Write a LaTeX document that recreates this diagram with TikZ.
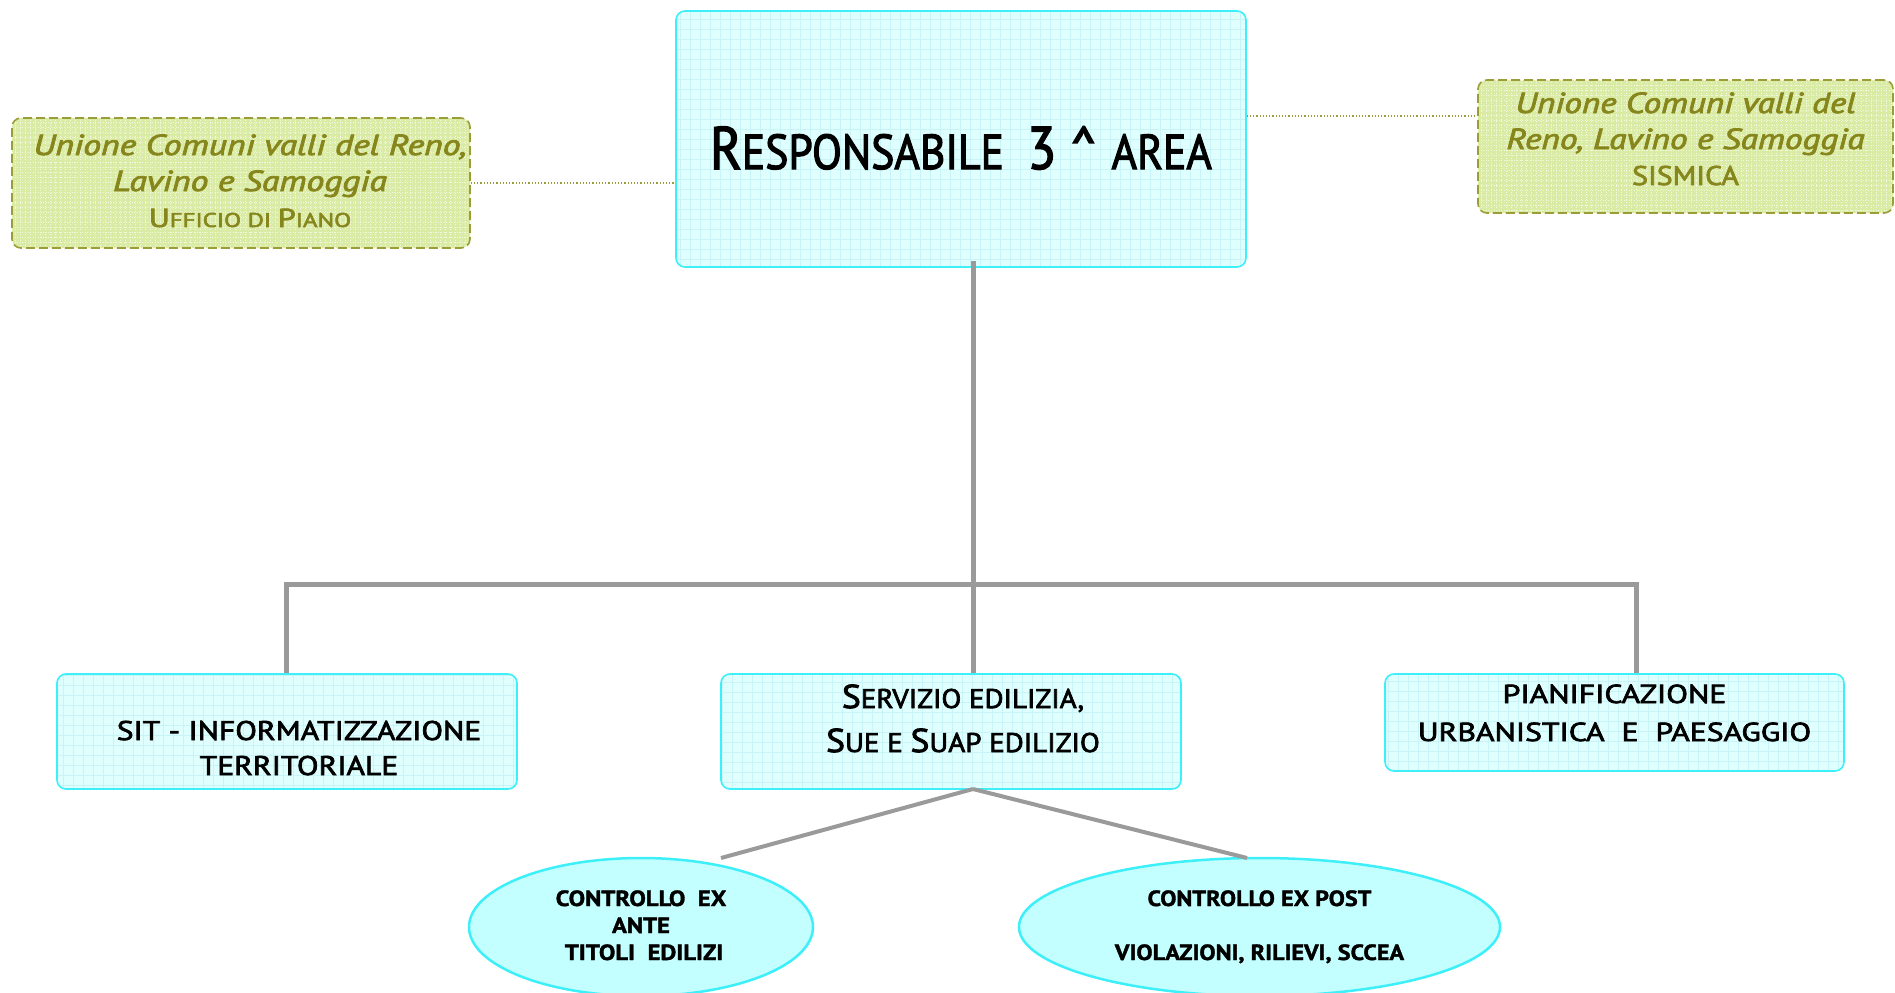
\documentclass[tikz,border=0pt]{standalone}
\usepackage{graphicx}
\usepackage{fontspec}
\setmainfont{PT Sans}[UprightFeatures={FakeBold=2.5}, ItalicFeatures={FakeBold=2.5},
  BoldFeatures={FakeBold=1.5}]
\usetikzlibrary{shapes.geometric}

\definecolor{boxfill}{HTML}{DFFFFF}
\definecolor{boxgrid}{HTML}{C8F4F7}
\definecolor{boxline}{HTML}{3CEFF8}
\definecolor{ovalfill}{HTML}{C4FFFF}
\definecolor{notefill}{HTML}{D9EBA4}
\definecolor{notegrid}{HTML}{F2F8DC}
\definecolor{noteline}{HTML}{9C9C38}
\definecolor{notetext}{HTML}{86861C}
\definecolor{linkgrey}{HTML}{9A9A9A}

\newcommand{\fs}[2]{\fontsize{#1}{#2}\selectfont}
\newcommand{\wide}[2]{\scalebox{#1}[1]{#2}}

\tikzset{
  unitbox/.style={draw=boxline, line width=1.6pt, fill=boxfill, rounded corners=9pt,
    align=center, inner sep=0pt, text=black, text depth=0pt,
    path picture={\draw[boxgrid, line width=0.5pt]
      (path picture bounding box.south west) grid[step=10pt]
      (path picture bounding box.north east);}},
  notebox/.style={draw=noteline, dash pattern=on 9pt off 4pt, line width=1.6pt,
    fill=notefill, rounded corners=9pt, align=center, inner sep=0pt, text=notetext,
    text depth=0pt,
    path picture={\draw[notegrid, line width=0.6pt, dotted]
      (path picture bounding box.south west) grid[step=5pt]
      (path picture bounding box.north east);}},
  oval/.style={ellipse, draw=boxline, line width=2.5pt, fill=ovalfill,
    align=center, inner sep=0pt, text=black, text depth=0pt},
  trunk/.style={draw=linkgrey, line width=5pt},
  branch/.style={draw=linkgrey, line width=4pt},
  liaison/.style={draw=noteline, dotted, line width=1.2pt}
}

\begin{document}
\begin{tikzpicture}[x=1pt, y=-1pt]
  \useasboundingbox (0,0) rectangle (1895,993);
  \clip (0,0) rectangle (1895,993);

  % head of the area
  \node[unitbox, minimum width=570pt, minimum height=256pt, text height=60pt,
        font=\fs{60}{70}] (head) at (961,139)
    {\wide{0.89}{R\fs{49}{70}ESPONSABILE\ \ \fs{60}{70}3 \^{} \fs{49}{70}AREA}};

  % external offices of the Unione
  \node[notebox, minimum width=458pt, minimum height=130pt, text height=88pt,
        font=\fs{29}{36}] (upiano) at (241,183)
    {\hspace*{18pt}\wide{1.23}{\itshape Unione Comuni valli del Reno,}\\
     \hspace*{18pt}\wide{1.23}{\itshape Lavino e Samoggia}\\
     \hspace*{18pt}\wide{1.24}{\fs{26}{36}U\fs{20}{36}FFICIO DI \fs{26}{36}P\fs{20}{36}IANO}};
  \node[notebox, minimum width=415pt, minimum height=133pt, text height=77pt,
        font=\fs{29}{36}] (sismica) at (1685.5,146.5)
    {\wide{1.21}{\itshape Unione Comuni valli del}\\
     \wide{1.22}{\itshape Reno, Lavino e Samoggia}\\
     \wide{1.11}{\fs{27}{36}SISMICA}};

  % services
  \node[unitbox, minimum width=460pt, minimum height=115pt, text height=87pt,
        font=\fs{27}{35}] (sit) at (287,731.5)
    {\hspace*{24pt}\wide{1.17}{SIT - INFORMATIZZAZIONE}\\
     \hspace*{24pt}\wide{1.17}{TERRITORIALE}};
  \node[unitbox, minimum width=460pt, minimum height=115pt, text height=41pt,
        font=\fs{27}{44}] (edil) at (951,731.5)
    {\hspace*{24pt}\wide{1.075}{\fs{33}{44}S\fs{27}{44}ERVIZIO EDILIZIA,}\\
     \hspace*{24pt}\wide{1.075}{\fs{33}{44}S\fs{27}{44}UE E \fs{33}{44}S\fs{27}{44}UAP EDILIZIO}};
  \node[unitbox, minimum width=459pt, minimum height=97pt, text height=37pt,
        font=\fs{26}{38}] (pian) at (1614.5,722.5)
    {\wide{1.22}{PIANIFICAZIONE}\\ \wide{1.22}{URBANISTICA\ \ E\ \ PAESAGGIO}};

  % building controls
  \node[oval, minimum width=344pt, minimum height=138pt, text height=66pt,
        font=\fs{22}{27}\bfseries] (exante) at (641,927)
    {\wide{1.12}{CONTROLLO\ \ EX}\\ \wide{1.12}{ANTE}\\ \wide{1.12}{\ TITOLI\ \ EDILIZI}};
  \node[oval, minimum width=481pt, minimum height=138pt, text height=66pt,
        font=\fs{22}{27}\bfseries] (expost) at (1259.5,927)
    {\wide{1.1}{CONTROLLO EX POST}\\[27pt] \wide{1.1}{VIOLAZIONI, RILIEVI, SCCEA}};

  % junction points of the tree
  \coordinate (spine) at (973,584);
  \coordinate (leftdrop) at (286,584);
  \coordinate (rightdrop) at (1636,584);
  \coordinate (fork) at (973,789);
  \coordinate (anteend) at (721,858);
  \coordinate (postend) at (1247,858);

  % tree connectors
  \draw[trunk] ([yshift=7pt]spine |- head.south) -- (spine |- edil.north);
  \draw[trunk] (leftdrop |- sit.north) -- (leftdrop) -- (rightdrop) -- (rightdrop |- pian.north);
  \draw[branch] (fork) -- (anteend);
  \draw[branch] (fork) -- (postend);

  % dotted liaisons with the Unione
  \draw[liaison] (upiano.east) -- (upiano.east -| head.west);
  \draw[liaison] (head.east |- 0,116) -- (sismica.west |- 0,116);
\end{tikzpicture}
\end{document}
